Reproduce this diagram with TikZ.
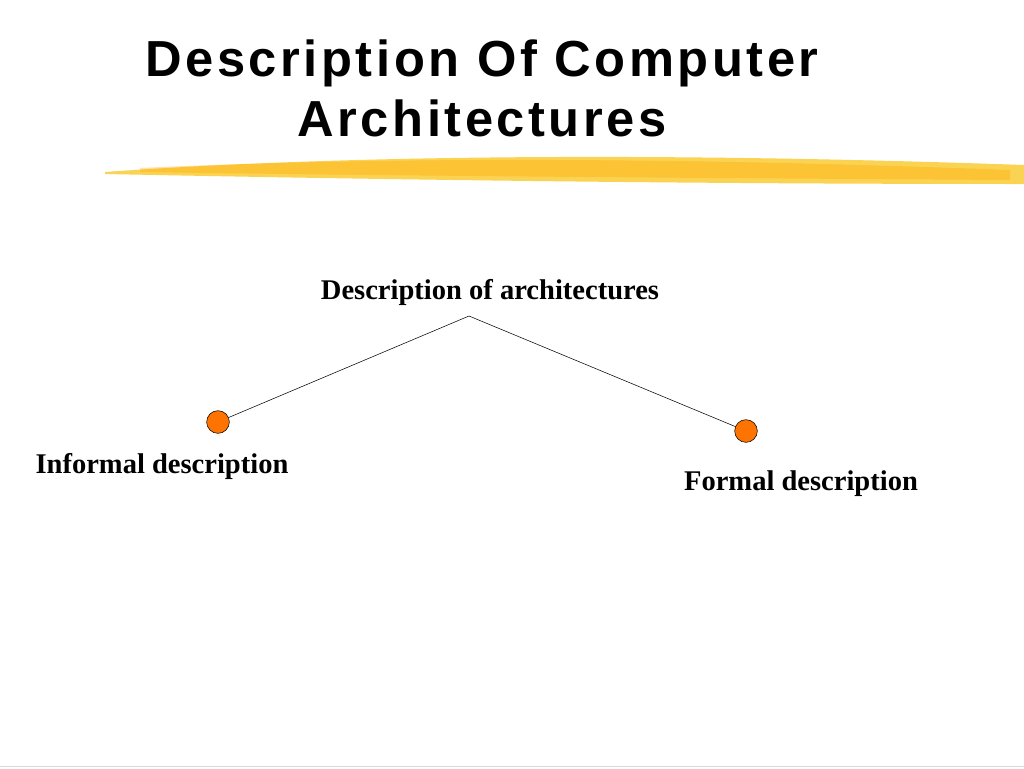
\documentclass[tikz,border=0pt]{standalone}
\usepackage{fontspec}
\setmainfont{Liberation Serif}
\setsansfont{Liberation Sans}
\newfontfamily\titlefont[LetterSpace=7]{Liberation Sans}
\definecolor{marker}{RGB}{250,200,40}
\begin{document}
\begin{tikzpicture}
                    [x=0.75pt,y=-0.75pt,
                     leaf/.style={circle,draw=black,fill=orange!90!red,minimum size=17pt,inner sep=0pt},
                     label/.style={font=\fontsize{21.4}{24}\selectfont\bfseries}]
                    \useasboundingbox (0,0) rectangle (1024,768);

                    % Title
                    \node (title) at (482,88) [align=center,font=\titlefont\bfseries\fontsize{38}{45}\selectfont] {Description Of Computer\\Architectures};

                    % Highlighter stroke
                    \fill [marker, opacity=0.8] (105,172) .. controls (300,158) and (600,150) .. (1024,165) -- (1024,184) .. controls (700,184) and (400,180) .. (105,174) -- cycle;
                    \fill [orange!70!yellow, opacity=0.35] (140,168) .. controls (400,156) and (700,158) .. (1010,170) -- (1010,180) .. controls (700,178) and (400,176) .. (140,172) -- cycle;

                    % Tree
                    \node (root) at (490,292) [label] {Description of architectures};
                    \coordinate (top) at (469,316);
                    \node (left) at (218,422) [leaf] {};
                    \node (right) at (746,431) [leaf] {};
                    \node (inf) at (162,466) [label] {Informal description};
                    \node (form) at (801,484) [label] {Formal description};
                    \draw (top) -- (left); \draw (top) -- (right);

                    \draw [black!15] (0,766) -- (1024,766);
                \end{tikzpicture}
\end{document}
